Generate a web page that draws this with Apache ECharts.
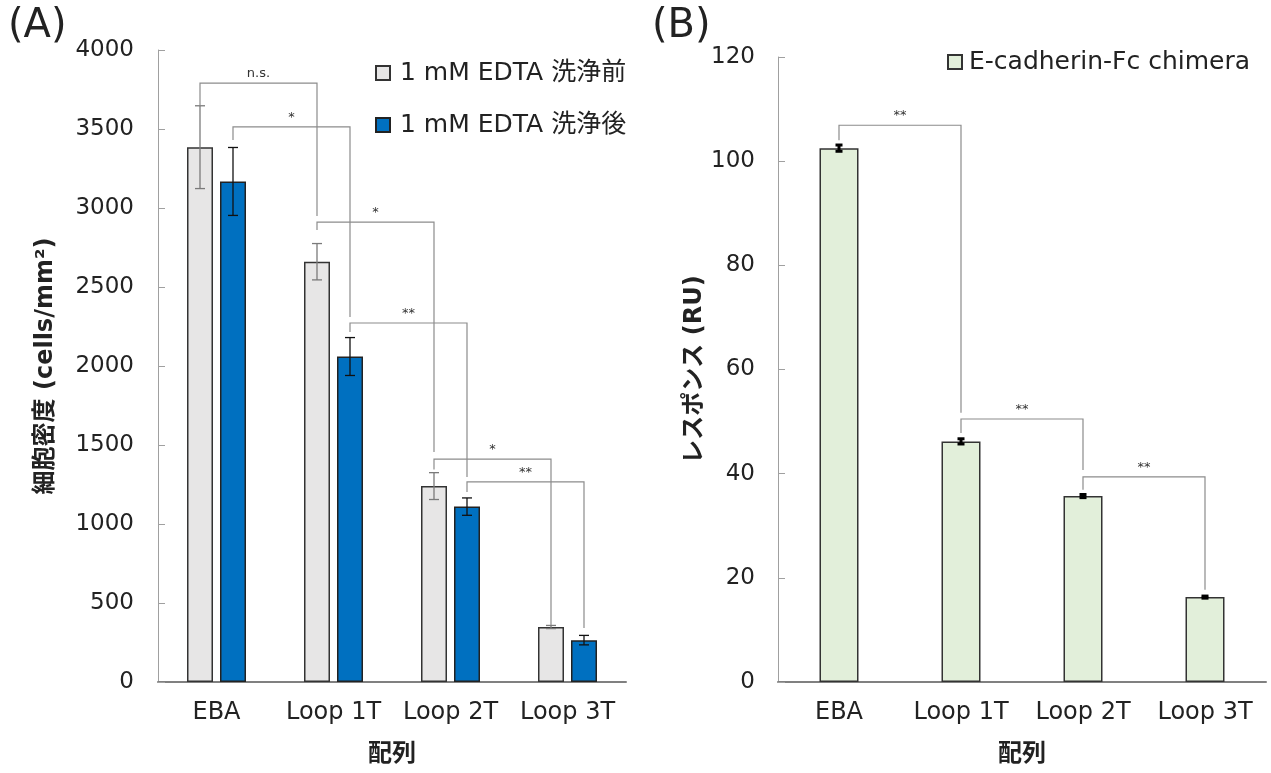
<!DOCTYPE html>
<html>
<head>
<meta charset="utf-8">
<script src="https://cdn.jsdelivr.net/npm/echarts@6/dist/echarts.min.js"></script>
<style>
  html, body { margin: 0; padding: 0; background: #fff; }
  #main { width: 1271px; height: 773px; }
</style>
</head>
<body>
<div id="main"></div>
<script>
// ---- data ----
var categories = ['EBA', 'Loop 1T', 'Loop 2T', 'Loop 3T'];
var beforeWash = [3385, 2660, 1240, 348];   // 1 mM EDTA 洗浄前
var beforeErr = [262, 115, 85, 10];
var afterWash = [3168, 2060, 1110, 265];    // 1 mM EDTA 洗浄後
var afterErr = [215, 120, 55, 30];
var responseRU = [102.5, 46.2, 35.7, 16.3]; // E-cadherin-Fc chimera
var responseErr = [0.6, 0.5, 0.3, 0.2];

// significance brackets: [cat1, bar1, cat2, bar2, top, leftEnd, rightEnd]
var bracketsA = [
  [0, 0, 1, 0, 3790, 3650, 2950],
  [0, 1, 1, 1, 3513, 3430, 2310],
  [1, 0, 2, 0, 2911, 2860, 1456],
  [1, 1, 2, 1, 2272, 2215, 1297],
  [2, 0, 3, 0, 1411, 1345, 360],
  [2, 1, 3, 1, 1266, 1203, 342]
];
var bracketLabelsA = ['n.s.', '*', '*', '**', '*', '**'];
var bracketsB = [
  [0, 0, 1, 0, 106.9, 104.0, 51.7],
  [1, 0, 2, 0, 50.5, 47.8, 40.7],
  [2, 0, 3, 0, 39.4, 36.9, 17.7]
];
var bracketLabelsB = ['**', '**', '**'];

var FONT = "'DejaVu Sans', 'Noto Sans CJK JP', sans-serif";
var BAR_W = 26, BAR_GAP = 7;
var HALF = (BAR_W + BAR_GAP) / 2;

function errRender(offset, color, capW, lw) {
  return function (params, api) {
    var i = api.value(0), v = api.value(1), e = api.value(2);
    var hi = api.coord([i, v + e]), lo = api.coord([i, v - e]);
    var x = hi[0] + offset;
    var st = { stroke: color, lineWidth: lw };
    return {
      type: 'group',
      children: [
        { type: 'line', shape: { x1: x, y1: hi[1], x2: x, y2: lo[1] }, style: st },
        { type: 'line', shape: { x1: x - capW / 2, y1: hi[1], x2: x + capW / 2, y2: hi[1] }, style: st },
        { type: 'line', shape: { x1: x - capW / 2, y1: lo[1], x2: x + capW / 2, y2: lo[1] }, style: st }
      ]
    };
  };
}

function bracketRender(labels, half) {
  return function (params, api) {
    var c1 = api.value(0), s1 = api.value(1), c2 = api.value(2), s2 = api.value(3);
    var top = api.value(4), yl = api.value(5), yr = api.value(6);
    var pTop1 = api.coord([c1, top]);
    var pTop2 = api.coord([c2, top]);
    var x1 = pTop1[0] + (half ? (s1 ? half : -half) : 0);
    var x2 = pTop2[0] + (half ? (s2 ? half : -half) : 0);
    var yT = pTop1[1];
    var yL = api.coord([c1, yl])[1];
    var yR = api.coord([c2, yr])[1];
    return {
      type: 'group',
      children: [
        {
          type: 'polyline',
          shape: { points: [[x1, yL], [x1, yT], [x2, yT], [x2, yR]] },
          style: { stroke: '#8c8c8c', lineWidth: 1.2, fill: null }
        },
        {
          type: 'text',
          style: {
            x: (x1 + x2) / 2, y: yT - 3, text: labels[params.dataIndex],
            fill: '#333', font: '13px ' + FONT, align: 'center', verticalAlign: 'bottom'
          }
        }
      ]
    };
  };
}

function rows3(vals, errs) {
  return categories.map(function (c, i) { return [i, vals[i], errs[i]]; });
}

function plain(v) { return String(v); }

var yLabelA = { color: '#222', fontSize: 23, fontFamily: FONT, margin: 24, formatter: plain };
var yLabelB = { color: '#222', fontSize: 23, fontFamily: FONT, margin: 23, formatter: plain };
var xLabel = { color: '#222', fontSize: 24, fontFamily: FONT, margin: 19, interval: 0, hideOverlap: false };
var nameStyle = { color: '#222', fontSize: 24, fontWeight: 'bold', fontFamily: FONT };
var tickStyle = { show: true, inside: true, length: 7, lineStyle: { color: '#a0a0a0' } };

var chart = echarts.init(document.getElementById('main'));
chart.setOption({
  animation: false,
  textStyle: { fontFamily: FONT },
  title: [
    { text: '(A)', left: 3, top: 2, textStyle: { fontSize: 40, fontWeight: 'normal', color: '#222', fontFamily: FONT } },
    { text: '(B)', left: 647, top: 2, textStyle: { fontSize: 40, fontWeight: 'normal', color: '#222', fontFamily: FONT } }
  ],
  legend: [
    {
      data: ['1 mM EDTA 洗浄前', '1 mM EDTA 洗浄後'],
      orient: 'vertical', left: 375, top: 59, itemGap: 24, padding: 0,
      icon: 'rect', itemWidth: 14, itemHeight: 14,
      textStyle: { fontSize: 25, lineHeight: 28, color: '#222', fontFamily: FONT, padding: [0, 0, 0, 5] }
    },
    {
      data: ['E-cadherin-Fc chimera'],
      left: 947, top: 48, padding: 0,
      icon: 'rect', itemWidth: 14, itemHeight: 14,
      textStyle: { fontSize: 25, lineHeight: 28, color: '#222', fontFamily: FONT, padding: [0, 0, 0, 2] }
    }
  ],
  grid: [
    { left: 158, top: 50, width: 468, height: 632 },
    { left: 778, top: 57, width: 488, height: 625 }
  ],
  xAxis: [
    {
      type: 'category', gridIndex: 0, data: categories,
      axisLine: { lineStyle: { color: '#808080', width: 2 } },
      axisTick: { show: false }, axisLabel: xLabel,
      name: '配列', nameLocation: 'middle', nameGap: 61, nameTextStyle: nameStyle
    },
    {
      type: 'category', gridIndex: 1, data: categories,
      axisLine: { lineStyle: { color: '#808080', width: 2 } },
      axisTick: { show: false }, axisLabel: xLabel,
      name: '配列', nameLocation: 'middle', nameGap: 61, nameTextStyle: nameStyle
    }
  ],
  yAxis: [
    {
      type: 'value', gridIndex: 0, min: 0, max: 4000, interval: 500,
      axisLine: { show: true, lineStyle: { color: '#a0a0a0', width: 1 } },
      axisTick: tickStyle, splitLine: { show: false }, axisLabel: yLabelA,
      name: '細胞密度 (cells/mm²)', nameLocation: 'middle', nameGap: 100, nameTextStyle: nameStyle
    },
    {
      type: 'value', gridIndex: 1, min: 0, max: 120, interval: 20,
      axisLine: { show: true, lineStyle: { color: '#a0a0a0', width: 1 } },
      axisTick: tickStyle, splitLine: { show: false }, axisLabel: yLabelB,
      name: 'レスポンス (RU)', nameLocation: 'middle', nameGap: 54, nameTextStyle: nameStyle
    }
  ],
  series: [
    {
      name: '1 mM EDTA 洗浄前', type: 'bar', xAxisIndex: 0, yAxisIndex: 0,
      data: beforeWash, barWidth: BAR_W, barGap: (BAR_GAP / BAR_W * 100) + '%',
      itemStyle: { color: '#e7e6e6', borderColor: '#333', borderWidth: 1.5 }
    },
    {
      name: '1 mM EDTA 洗浄後', type: 'bar', xAxisIndex: 0, yAxisIndex: 0,
      data: afterWash, barWidth: BAR_W,
      itemStyle: { color: '#0070c0', borderColor: '#222', borderWidth: 1.5 }
    },
    {
      type: 'custom', xAxisIndex: 0, yAxisIndex: 0, encode: { x: 0, y: 1 }, z: 5,
      data: rows3(beforeWash, beforeErr), renderItem: errRender(-HALF, '#7a7a7a', 10, 1.3)
    },
    {
      type: 'custom', xAxisIndex: 0, yAxisIndex: 0, encode: { x: 0, y: 1 }, z: 5,
      data: rows3(afterWash, afterErr), renderItem: errRender(HALF, '#111', 10, 1.3)
    },
    {
      type: 'custom', xAxisIndex: 0, yAxisIndex: 0, encode: { x: 0, y: 4 }, z: 6, clip: false,
      data: bracketsA, renderItem: bracketRender(bracketLabelsA, HALF)
    },
    {
      name: 'E-cadherin-Fc chimera', type: 'bar', xAxisIndex: 1, yAxisIndex: 1,
      data: responseRU, barWidth: 39,
      itemStyle: { color: '#e2efda', borderColor: '#333', borderWidth: 1.5 }
    },
    {
      type: 'custom', xAxisIndex: 1, yAxisIndex: 1, encode: { x: 0, y: 1 }, z: 5,
      data: rows3(responseRU, responseErr), renderItem: errRender(0, '#000', 7, 3)
    },
    {
      type: 'custom', xAxisIndex: 1, yAxisIndex: 1, encode: { x: 0, y: 4 }, z: 6, clip: false,
      data: bracketsB, renderItem: bracketRender(bracketLabelsB, 0)
    }
  ]
});
</script>
</body>
</html>
